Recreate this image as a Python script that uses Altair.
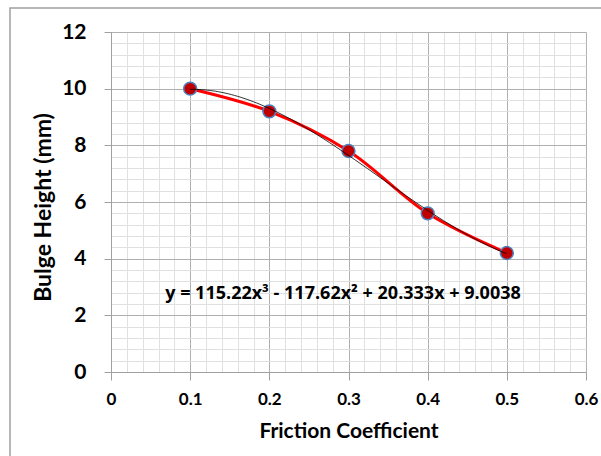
import altair as alt
import pandas as pd

# ---- data ----
friction = [0.1, 0.2, 0.3, 0.4, 0.5]
bulge = [10.0, 9.2, 7.8, 5.6, 4.2]

x_major = [0, 0.1, 0.2, 0.3, 0.4, 0.5, 0.6]
y_major = [0, 2, 4, 6, 8, 10, 12]
x_minor = [0, 0.02, 0.04, 0.06, 0.08, 0.1, 0.12, 0.14, 0.16, 0.18, 0.2,
           0.22, 0.24, 0.26, 0.28, 0.3, 0.32, 0.34, 0.36, 0.38, 0.4,
           0.42, 0.44, 0.46, 0.48, 0.5, 0.52, 0.54, 0.56, 0.58, 0.6]
y_minor = [0, 0.4, 0.8, 1.2, 1.6, 2, 2.4, 2.8, 3.2, 3.6, 4, 4.4, 4.8, 5.2,
           5.6, 6, 6.4, 6.8, 7.2, 7.6, 8, 8.4, 8.8, 9.2, 9.6, 10, 10.4, 10.8,
           11.2, 11.6, 12]
equation = "y = 115.22x³ - 117.62x² + 20.333x + 9.0038"
x_title = "Friction Coefficient"
y_title = "Bulge Height (mm)"

df = pd.DataFrame({"f": friction, "h": bulge})

FONT = "Lato"
xs = alt.Scale(domain=[0, 0.6], nice=False, zero=False)
ys = alt.Scale(domain=[0, 12], nice=False)

base = alt.Chart(df)

minor = base.mark_point(opacity=0).encode(
    x=alt.X("f:Q", scale=xs, axis=alt.Axis(
        values=x_minor, grid=True, gridColor="#e0e0e0", gridWidth=1,
        labels=False, ticks=False, domain=False, title=None, orient="bottom")),
    y=alt.Y("h:Q", scale=ys, axis=alt.Axis(
        values=y_minor, grid=True, gridColor="#e0e0e0", gridWidth=1,
        labels=False, ticks=False, domain=False, title=None, orient="left")),
)

line = base.mark_line(color="#ff0000", strokeWidth=3, interpolate="catmull-rom").encode(
    x=alt.X("f:Q", scale=xs, axis=alt.Axis(
        values=x_major, grid=True, gridColor="#b0b0b0", gridWidth=1,
        domain=True, domainColor="#a0a0a0", ticks=True, tickColor="#a0a0a0",
        tickSize=8, labelFont=FONT, labelFontSize=17, labelFontWeight="bold",
        labelColor="#000000", labelPadding=11, labelFlush=False,
        title=x_title, titleFont=FONT, titleFontSize=21, titleFontWeight="bold",
        titleColor="#000000", titlePadding=13, orient="bottom", format="~g")),
    y=alt.Y("h:Q", scale=ys, axis=alt.Axis(
        values=y_major, grid=True, gridColor="#b0b0b0", gridWidth=1,
        domain=True, domainColor="#a0a0a0", ticks=True, tickColor="#a0a0a0",
        tickSize=7, labelFont=FONT, labelFontSize=21, labelFontWeight="bold",
        labelColor="#000000", labelPadding=18, labelFlush=False,
        title=y_title, titleFont=FONT, titleFontSize=23, titleFontWeight="bold",
        titleColor="#000000", titlePadding=6, titleY=175, orient="left")),
)

points = base.mark_point(filled=True, size=165, fill="#c00000", stroke="#4f81bd",
                         strokeWidth=1.5, opacity=1).encode(
    x=alt.X("f:Q", scale=xs, axis=None),
    y=alt.Y("h:Q", scale=ys, axis=None),
)

trend = base.transform_regression(
    "f", "h", method="poly", order=3, extent=[0.1, 0.5]
).mark_line(color="#000000", strokeWidth=0.8).encode(
    x=alt.X("f:Q", scale=xs, axis=None),
    y=alt.Y("h:Q", scale=ys, axis=None),
)

label = alt.Chart(pd.DataFrame({"t": [equation]})).mark_text(
    font="Open Sans", fontSize=18, fontWeight="bold", color="#000000",
    align="center", baseline="middle"
).encode(text="t:N", x=alt.value(232), y=alt.value(262))

border = alt.Chart(pd.DataFrame({"b": [0]})).mark_rect(
    filled=False, stroke="#a0a0a0", strokeWidth=1.5
).encode(x=alt.value(-101), x2=alt.value(520), y=alt.value(-24), y2=alt.value(440))

chart = alt.layer(minor, line, points, trend, label, border).resolve_axis(
    x="independent", y="independent"
).properties(
    width=475, height=340,
    padding={"left": 111, "top": 32, "right": 15, "bottom": 84},
    autosize=alt.AutoSizeParams(type="none"),
    background="#ffffff",
).configure_view(strokeWidth=0)

chart.save("out.html", embed_options={"renderer": "svg", "actions": False})
